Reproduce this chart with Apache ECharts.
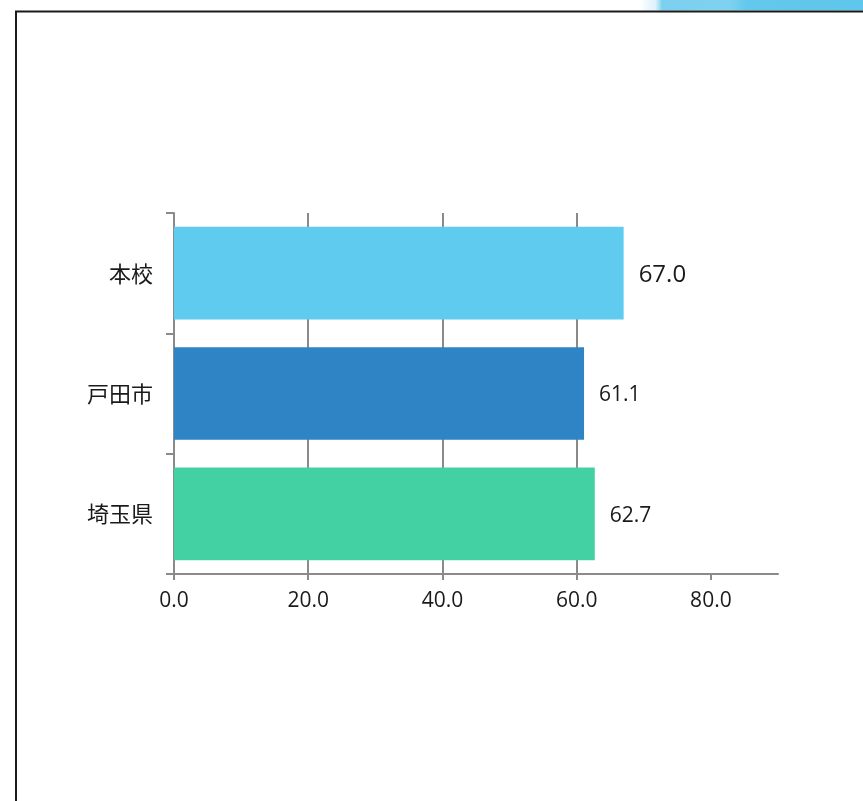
<!DOCTYPE html>
<html>
<head>
<meta charset="utf-8">
<script src="https://cdn.jsdelivr.net/npm/echarts@6/dist/echarts.min.js"></script>
<style>
  html, body { margin: 0; padding: 0; background: #fff; }
  #chart { width: 863px; height: 801px; }
</style>
</head>
<body>
<div id="chart"></div>
<script>
// Categories and values
const categories = ['本校', '戸田市', '埼玉県'];
const values = [67.0, 61.1, 62.7];
const barColors = ['#5fcbef', '#2e84c4', '#43d1a3'];
const axisTicks = [0, 20, 40, 60, 80];

const cjkFont = '"Noto Sans CJK JP", "Noto Sans", sans-serif';
const numFont = '"Open Sans", "Noto Sans", sans-serif';
const axisGray = '#8a8a8a';

const chart = echarts.init(document.getElementById('chart'), null, { renderer: 'canvas' });

const seriesData = values.map((v, i) => ({
  value: v,
  itemStyle: { color: barColors[i] },
  label: i === 0 ? { fontSize: 24 } : undefined
}));

chart.setOption({
  backgroundColor: '#fff',
  animation: false,
  graphic: [
    // page frame (top and left edges)
    {
      type: 'polyline',
      shape: { points: [[16, 801], [16, 11.5], [863, 11.5]] },
      style: { stroke: '#1a1a1a', lineWidth: 2, fill: null },
      z: 10
    },
    // decorative header band at the top right
    {
      type: 'polygon',
      shape: { points: [[640, 0], [863, 0], [863, 10.5], [640, 10.5]] },
      style: {
        fill: new echarts.graphic.LinearGradient(0, 0, 1, 0, [
          { offset: 0, color: 'rgba(255,255,255,1)' },
          { offset: 0.07, color: 'rgba(220,242,250,1)' },
          { offset: 0.10, color: '#7ccfee' },
          { offset: 0.40, color: '#7fd2ef' },
          { offset: 0.48, color: '#62c8ec' },
          { offset: 1, color: '#5fc7eb' }
        ])
      },
      z: 5
    }
  ],
  grid: { left: 174, right: 85, top: 213, bottom: 227, containLabel: false },
  xAxis: {
    type: 'value',
    min: 0,
    max: 90,
    interval: 20,
    axisLine: { show: true, lineStyle: { color: axisGray, width: 2 } },
    axisTick: { show: true, length: 6, lineStyle: { color: axisGray, width: 2 }, customValues: axisTicks },
    axisLabel: {
      customValues: axisTicks,
      formatter: v => v.toFixed(1),
      color: '#1a1a1a',
      fontSize: 21,
      fontFamily: numFont,
      margin: 17
    },
    splitLine: { show: true, showMinLine: false, showMaxLine: false, lineStyle: { color: axisGray, width: 2 } }
  },
  yAxis: {
    type: 'category',
    data: categories,
    inverse: true,
    axisLine: { show: true, lineStyle: { color: axisGray, width: 2 } },
    axisTick: { show: true, length: 8, lineStyle: { color: axisGray, width: 2 } },
    axisLabel: { color: '#1a1a1a', fontSize: 22, fontFamily: cjkFont, margin: 21 },
    splitLine: { show: false }
  },
  series: [{
    type: 'bar',
    data: seriesData,
    barCategoryGap: '23%',
    label: {
      show: true,
      position: 'right',
      distance: 15,
      offset: [0, 2],
      formatter: p => p.value.toFixed(1),
      color: '#1a1a1a',
      fontSize: 21,
      fontFamily: numFont
    }
  }]
});
</script>
</body>
</html>
